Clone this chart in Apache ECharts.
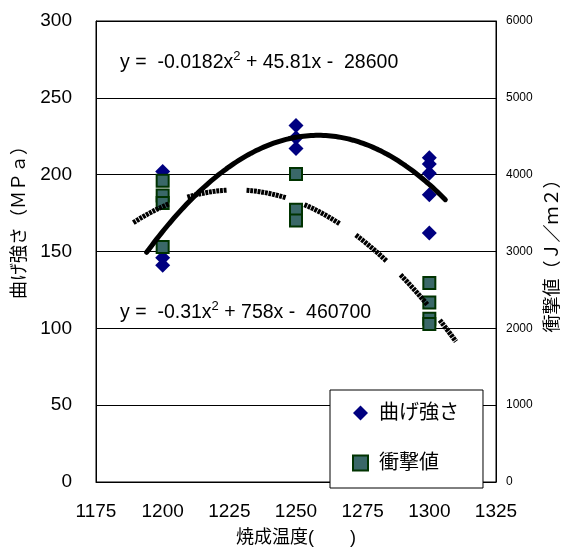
<!DOCTYPE html>
<html>
<head>
<meta charset="utf-8">
<script src="https://cdn.jsdelivr.net/npm/echarts@6/dist/echarts.min.js"></script>
<style>
  html, body { margin: 0; padding: 0; background: #fff; }
  #chart { width: 564px; height: 552px; }
</style>
</head>
<body>
<div id="chart"></div>
<script>
// Firing temperature (℃) for each specimen
const bendTemps   = [1200, 1200, 1200, 1250, 1250, 1250, 1300, 1300, 1300, 1300, 1300];
// Bending strength (MPa)
const bendValues  = [202, 146, 141, 232, 224, 217, 211, 207, 201, 187, 162];

const impactTemps  = [1200, 1200, 1200, 1200, 1250, 1250, 1250, 1300, 1300, 1300, 1300];
// Impact value (J/m2)
const impactValues = [3920, 3730, 3630, 3060, 4010, 3545, 3405, 2590, 2335, 2125, 2055];

// Axis tick settings
const xTicks = { min: 1175, max: 1325, step: 25 };
const yLeftTicks = { min: 0, max: 300, step: 50 };
const yRightTicks = { min: 0, max: 6000, step: 1000 };

// Trend line extents (temperature)
const bendTrendRange = [1194, 1306];
const impactTrendRange = [1189, 1310];

// Least-squares quadratic fit, centred on the mean temperature for stability
function quadFit(xs, ys) {
  const x0 = xs.reduce((a, b) => a + b, 0) / xs.length;
  let s = [0, 0, 0, 0, 0], t = [0, 0, 0];
  xs.forEach((x, i) => {
    const u = x - x0;
    let p = 1;
    for (let k = 0; k < 5; k++) { s[k] += p; if (k < 3) t[k] += p * ys[i]; p *= u; }
  });
  // Solve 3x3 normal equations
  const M = [[s[0], s[1], s[2], t[0]], [s[1], s[2], s[3], t[1]], [s[2], s[3], s[4], t[2]]];
  for (let c = 0; c < 3; c++) {
    for (let r = c + 1; r < 3; r++) {
      const f = M[r][c] / M[c][c];
      for (let k = c; k < 4; k++) M[r][k] -= f * M[c][k];
    }
  }
  const coef = [0, 0, 0];
  for (let r = 2; r >= 0; r--) {
    let v = M[r][3];
    for (let k = r + 1; k < 3; k++) v -= M[r][k] * coef[k];
    coef[r] = v / M[r][r];
  }
  return x => { const u = x - x0; return coef[0] + coef[1] * u + coef[2] * u * u; };
}

function trendPoints(xs, ys, range) {
  const f = quadFit(xs, ys);
  const pts = [];
  const n = 120;
  for (let i = 0; i <= n; i++) {
    const x = range[0] + (range[1] - range[0]) * i / n;
    pts.push([x, f(x)]);
  }
  return pts;
}

const pair = (xs, ys) => xs.map((x, i) => [x, ys[i]]);

// Hatched dash: short strokes grouped into dashes, then a long gap
const hatchDash = [];
for (let i = 0; i < 11; i++) hatchDash.push(2.9, 0.8);
hatchDash[hatchDash.length - 1] = 20;

const latin = '"Liberation Sans", Arial, sans-serif';
const cjk = '"Liberation Sans", "Noto Sans CJK JP", sans-serif';
const plain = v => String(v);

const chart = echarts.init(document.getElementById('chart'), null, { renderer: 'canvas' });

chart.setOption({
  backgroundColor: '#fff',
  animation: false,
  grid: {
    left: 96, right: 68, top: 21, bottom: 70,
    containLabel: false, outerBoundsMode: 'none',
    show: true, borderColor: '#000', borderWidth: 1, backgroundColor: '#fff'
  },
  xAxis: {
    type: 'value', min: xTicks.min, max: xTicks.max, interval: xTicks.step,
    name: '焼成温度(　　)', nameLocation: 'middle', nameGap: 47,
    nameTextStyle: { fontSize: 18, color: '#000', fontFamily: cjk },
    axisLine: { show: true, lineStyle: { color: '#000', width: 1 } },
    axisTick: { show: false },
    splitLine: { show: false },
    axisLabel: { fontSize: 19, color: '#000', fontFamily: latin, margin: 20, formatter: plain }
  },
  yAxis: [{
    type: 'value', min: yLeftTicks.min, max: yLeftTicks.max, interval: yLeftTicks.step,
    name: '曲げ強さ（ＭＰａ）', nameLocation: 'middle', nameGap: 59, nameRotate: 90,
    nameTextStyle: { fontSize: 18, color: '#000', fontFamily: cjk, padding: [0, 0, 0, 67] },
    axisLine: { show: true, lineStyle: { color: '#000', width: 1 } },
    axisTick: { show: false },
    splitLine: { show: true, lineStyle: { color: '#000', width: 1 } },
    axisLabel: { fontSize: 19, color: '#000', fontFamily: latin, margin: 24, formatter: plain }
  }, {
    type: 'value', min: yRightTicks.min, max: yRightTicks.max, interval: yRightTicks.step,
    position: 'right',
    name: '衝撃値（Ｊ／ｍ２）', nameLocation: 'middle', nameGap: 43, nameRotate: 90,
    nameTextStyle: { fontSize: 18, color: '#000', fontFamily: cjk },
    axisLine: { show: true, lineStyle: { color: '#000', width: 1 } },
    axisTick: { show: false },
    splitLine: { show: false },
    axisLabel: { fontSize: 12, color: '#000', fontFamily: latin, margin: 10, formatter: plain }
  }],
  legend: {
    data: ['曲げ強さ', '衝撃値'],
    orient: 'vertical', left: 330, top: 390,
    padding: [13, 24, 15, 22],
    itemWidth: 15, itemHeight: 15, itemGap: 30,
    backgroundColor: '#fff', borderColor: '#000', borderWidth: 1, borderRadius: 0,
    textStyle: { fontSize: 20, lineHeight: 20, color: '#000', fontFamily: cjk, padding: [0, 0, 0, 6] },
    z: 10
  },
  graphic: [{
    type: 'text', left: 120, top: 50, z: 20,
    style: {
      text: 'y =  -0.0182x{sup|2} + 45.81x -  28600',
      fontSize: 19.5, fontFamily: latin, fill: '#000',
      rich: { sup: { fontSize: 13, fontFamily: latin, fill: '#000', padding: [0, 0, 12, 0] } }
    }
  }, {
    type: 'text', left: 120, top: 300, z: 20,
    style: {
      text: 'y =  -0.31x{sup|2} + 758x -  460700',
      fontSize: 19.5, fontFamily: latin, fill: '#000',
      rich: { sup: { fontSize: 13, fontFamily: latin, fill: '#000', padding: [0, 0, 12, 0] } }
    }
  }],
  series: [{
    name: '曲げ強さ', type: 'scatter', yAxisIndex: 0, z: 2,
    symbol: 'diamond', symbolSize: [15, 15],
    itemStyle: { color: '#000080', opacity: 1 },
    data: pair(bendTemps, bendValues)
  }, {
    name: '衝撃値', type: 'scatter', yAxisIndex: 1, z: 3,
    symbol: 'rect', symbolSize: 12,
    itemStyle: { color: '#3a6868', borderColor: '#003300', borderWidth: 2, opacity: 1 },
    data: pair(impactTemps, impactValues)
  }, {
    type: 'line', yAxisIndex: 0, z: 5, showSymbol: false, silent: true,
    lineStyle: { color: '#000', width: 5, cap: 'round' },
    data: trendPoints(bendTemps, bendValues, bendTrendRange)
  }, {
    type: 'line', yAxisIndex: 1, z: 5, showSymbol: false, silent: true,
    lineStyle: { color: '#000', width: 5, type: hatchDash },
    data: trendPoints(impactTemps, impactValues, impactTrendRange)
  }]
});
</script>
</body>
</html>
